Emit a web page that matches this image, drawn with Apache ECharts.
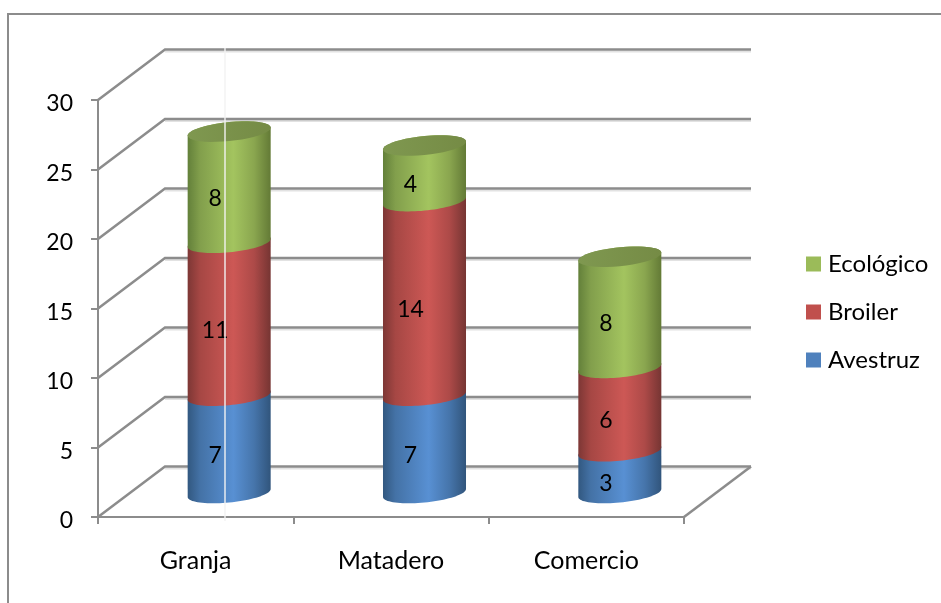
<!DOCTYPE html>
<html>
<head>
<meta charset="utf-8">
<style>html,body{margin:0;padding:0;background:#fff}#chart{width:941px;height:603px}</style>
<script src="https://cdn.jsdelivr.net/npm/echarts@6/dist/echarts.min.js"></script>
</head>
<body>
<div id="chart"></div>
<script>
const categories = ['Granja', 'Matadero', 'Comercio'];
const seriesNames = ['Avestruz', 'Broiler', 'Ecológico'];
const avestruz = [7, 7, 3];
const broiler = [11, 14, 6];
const ecologico = [8, 4, 8];
const yTicks = [0, 5, 10, 15, 20, 25, 30];

// Pseudo-3D layout: depth of the floor and the shape of the cylinder ends.
const DEPTH_X = 67, DEPTH_Y = -50.5;
const BAR_LIFT = -24;
const BAR_RATIO = 0.425, ELLIPSE_B = 9.5, ELLIPSE_TILT = 4;
const LINE = '#8c8c8c', LINE_SHADE = '#e2e2e2';
const FONT = 'Lato';
const FONT_SIZE = 24, DIGIT_SIZE = 23;

const palette = {
  Avestruz: { flat: '#4f81bd', stops: ['#325880', '#4472a6', '#5890d3', '#4675ab', '#31557c'] },
  Broiler: { flat: '#c0504d', stops: ['#7d3735', '#a64744', '#cd5855', '#ad4a48', '#763533'] },
  'Ecológico': { flat: '#9bbb59', stops: ['#63803a', '#829f4c', '#a3c45f', '#8aa64f', '#637a36'] }
};

// Points along one half of a sheared ellipse, walking from angle t0 to t1.
function arc(cx, cy, a, t0, t1) {
  const pts = [];
  for (let i = 0; i <= 40; i++) {
    const t = t0 + (t1 - t0) * i / 40;
    pts.push([cx + a * Math.cos(t), cy - ELLIPSE_TILT * Math.cos(t) + ELLIPSE_B * Math.sin(t)]);
  }
  return pts;
}

function sideGradient(stops) {
  const at = [0, 0.15, 0.55, 0.8, 1];
  return new echarts.graphic.LinearGradient(0, 0, 1, 0,
    stops.map((color, i) => ({ offset: at[i], color })));
}

// One stacked cylinder segment, plus the lid when it is the top of the stack.
function renderSegment(params, api) {
  const name = seriesNames[params.seriesIndex - 1];
  const cat = api.value(0), start = api.value(1), end = api.value(2);
  const a = api.size([1, 0])[0] * BAR_RATIO / 2;
  const low = api.coord([cat, start]), high = api.coord([cat, end]);
  const cx = low[0] + DEPTH_X / 2, yLow = low[1] + BAR_LIFT, yHigh = high[1] + BAR_LIFT;
  const children = [{
    type: 'polygon',
    shape: { points: arc(cx, yLow, a, Math.PI, 0).concat(arc(cx, yHigh, a, 0, -Math.PI)) },
    style: { fill: sideGradient(palette[name].stops) }
  }];
  if (params.seriesIndex === seriesNames.length) {
    children.push({
      type: 'polygon',
      shape: { points: arc(cx, yHigh, a, 0, 2 * Math.PI) },
      style: { fill: new echarts.graphic.LinearGradient(0, 0, 1, 0, [
        { offset: 0, color: '#7f9850' }, { offset: 1, color: '#758b45' }
      ]) }
    });
  }
  children.push({
    type: 'text',
    z2: 50,
    style: {
      text: String(end - start),
      x: cx - 14,
      y: (yLow + yHigh) / 2 + 11,
      align: 'center',
      verticalAlign: 'middle',
      fontFamily: FONT,
      fontSize: DIGIT_SIZE,
      fill: '#000'
    }
  });
  return { type: 'group', children };
}

// Back-wall gridline and its diagonal down to the y axis, for one tick value.
function renderWall(params, api) {
  const rect = params.coordSys;
  const left = api.coord([0, api.value(0)]);
  const x0 = rect.x, y = left[1];
  const back = y + DEPTH_Y;
  const run = [[x0 + DEPTH_X, back], [x0 + rect.width + DEPTH_X, back]];
  const children = [
    { type: 'line', shape: { x1: run[0][0], y1: back + 2, x2: run[1][0], y2: back + 2 },
      style: { stroke: LINE_SHADE, lineWidth: 2 } },
    { type: 'polyline', shape: { points: [[x0, y], run[0], run[1]] },
      style: { fill: 'none', stroke: LINE, lineWidth: 2.5 } }
  ];
  if (api.value(0) === 0) {
    children.push({ type: 'line', shape: { x1: x0 + rect.width, y1: y, x2: run[1][0], y2: back },
      style: { stroke: LINE, lineWidth: 2.5 } });
  }
  return { type: 'group', children };
}

function stackRows(values, below) {
  return values.map((v, i) => [i, below[i], below[i] + v]);
}
const base = categories.map(() => 0);
const stackA = stackRows(avestruz, base);
const stackB = stackRows(broiler, stackA.map(r => r[2]));
const stackC = stackRows(ecologico, stackB.map(r => r[2]));

const chart = echarts.init(document.getElementById('chart'), null, { renderer: 'canvas' });
chart.setOption({
  animation: false,
  backgroundColor: '#fff',
  grid: { left: 98, top: 100, width: 586, height: 417, containLabel: false },
  xAxis: {
    type: 'category',
    data: categories,
    boundaryGap: true,
    axisLine: { lineStyle: { color: LINE, width: 2 } },
    axisTick: { show: true, length: 7, lineStyle: { color: LINE, width: 2 } },
    axisLabel: { color: '#000', fontFamily: FONT, fontSize: 25, margin: 31 }
  },
  yAxis: {
    type: 'value',
    min: 0,
    max: 30,
    interval: 5,
    splitLine: { show: false },
    axisLine: { show: true, lineStyle: { color: LINE, width: 2 } },
    axisTick: { show: true, length: 7, lineStyle: { color: LINE, width: 2 } },
    axisLabel: {
      margin: 25,
      formatter: '{n|{value}}',
      rich: { n: { color: '#000', fontFamily: FONT, fontSize: DIGIT_SIZE, padding: [8, 0, 0, 0] } }
    }
  },
  legend: {
    orient: 'vertical',
    left: 806,
    top: 252,
    padding: 0,
    itemGap: 24,
    itemWidth: 15,
    itemHeight: 15,
    icon: 'rect',
    data: ['Ecológico', 'Broiler', 'Avestruz'],
    textStyle: { color: '#000', fontFamily: FONT, fontSize: FONT_SIZE, lineHeight: 24,
      padding: [0, 0, 0, 2] }
  },
  graphic: [
    // Chart-area frame along the top and left edges.
    { type: 'polyline', silent: true, shape: { points: [[8, 603], [8, 14], [941, 14]] },
      style: { fill: 'none', stroke: LINE, lineWidth: 2 } },
    // Thin pale rule crossing the first column.
    { type: 'line', silent: true, z: 200, shape: { x1: 225, y1: 48, x2: 225, y2: 521 },
      style: { stroke: '#f2f2f2', lineWidth: 1.4 } }
  ],
  series: [
    { type: 'custom', name: 'wall', coordinateSystem: 'cartesian2d', silent: true, z: 1,
      data: yTicks.map(v => [v]), encode: { y: 0 }, renderItem: renderWall },
    { type: 'custom', name: seriesNames[0], z: 3, itemStyle: { color: palette.Avestruz.flat },
      data: stackA, encode: { x: 0, y: [1, 2] }, renderItem: renderSegment },
    { type: 'custom', name: seriesNames[1], z: 4, itemStyle: { color: palette.Broiler.flat },
      data: stackB, encode: { x: 0, y: [1, 2] }, renderItem: renderSegment },
    { type: 'custom', name: seriesNames[2], z: 5, itemStyle: { color: palette['Ecológico'].flat },
      data: stackC, encode: { x: 0, y: [1, 2] }, renderItem: renderSegment }
  ]
});
</script>
</body>
</html>
